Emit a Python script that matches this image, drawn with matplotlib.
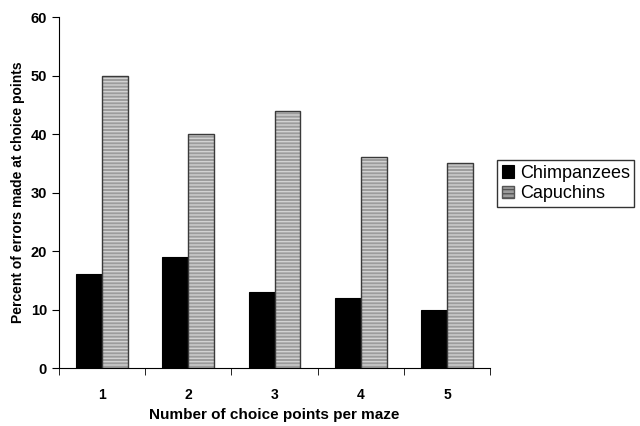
import matplotlib.pyplot as plt
import numpy as np

plt.rcParams['font.family'] = ['Liberation Sans', 'DejaVu Sans']

categories = ['1', '2', '3', '4', '5']
chimpanzees = [16, 19, 13, 12, 10]
capuchins = [50, 40, 44, 36, 35]

x = np.arange(len(categories))
w = 0.3

fig = plt.figure(figsize=(6.4, 4.26), dpi=100)
ax = fig.add_axes([0.092, 0.136, 0.674, 0.824])

ax.bar(x - w / 2, chimpanzees, w, color='black', edgecolor='black',
       linewidth=0.8, label='Chimpanzees')
ax.bar(x + w / 2, capuchins, w, color='#9c9c9c', edgecolor='#d2d2d2',
       hatch='-----', linewidth=0)
ax.bar(x + w / 2, capuchins, w, fill=False, edgecolor='#3a3a3a', linewidth=1.0)
# legend proxy for hatched bars
ax.bar([0], [0], 0, color='#9c9c9c', edgecolor='#555555', hatch='----',
       label='Capuchins')

ax.set_xlim(-0.5, 4.5)
ax.set_ylim(0, 60)
ax.set_yticks(range(0, 61, 10))
ax.set_xticks(x)
ax.set_xticklabels(categories, fontweight='bold', fontsize=10)
ax.set_xticks(np.arange(-0.5, 5, 1), minor=True)
ax.tick_params(axis='x', which='major', length=0, pad=14)
ax.tick_params(axis='x', which='minor', length=5, direction='out')
ax.tick_params(axis='y', length=5, direction='out', labelsize=10.5)
for lab in ax.get_yticklabels():
    lab.set_fontweight('bold')

ax.spines['top'].set_visible(False)
ax.spines['right'].set_visible(False)

ax.set_xlabel('Number of choice points per maze', fontweight='bold',
              fontsize=11, labelpad=5)
ax.set_ylabel('Percent of errors made at choice points', fontweight='bold',
              fontsize=10)

ax.legend(loc='center left', bbox_to_anchor=(1.016, 0.526), frameon=True,
          fancybox=False, edgecolor='black', fontsize=13,
          handlelength=0.7, handleheight=0.7, handletextpad=0.3,
          borderpad=0.25, labelspacing=0.2, borderaxespad=0)

fig.savefig('out.png', dpi=100)
